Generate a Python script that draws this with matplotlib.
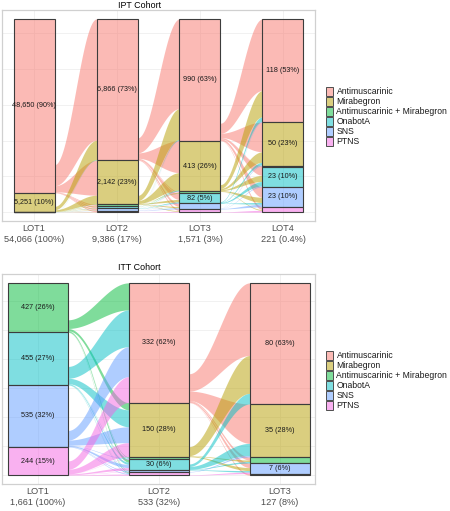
import matplotlib.pyplot as plt
from matplotlib.patches import Rectangle
from matplotlib.colors import to_rgba
import numpy as np

plt.rcParams['font.family'] = ['Liberation Sans', 'DejaVu Sans']

######### Data #########

treatments = ['Antimuscarinic', 'Mirabegron', 'Antimuscarinic + Mirabegron',
              'OnabotA', 'SNS', 'PTNS']
colors = ['#F8766D', '#B79F00', '#00BA38', '#00BFC4', '#619CFF', '#F564E3']

ipt_lots = ['LOT1', 'LOT2', 'LOT3', 'LOT4']
ipt_counts = [
    [48650, 5251, 60, 40, 35, 30],
    [6866, 2142, 90, 110, 100, 78],
    [990, 413, 15, 82, 45, 26],
    [118, 50, 1, 23, 23, 6],
]
# rows = treatment at this LOT, columns = treatment at next LOT
ipt_flow_1_2 = [
    [5900, 1700, 60, 80, 70, 55],
    [940, 430, 25, 20, 20, 15],
    [16, 12, 5, 0, 0, 0],
    [5, 0, 0, 10, 0, 0],
    [5, 0, 0, 0, 10, 0],
    [0, 0, 0, 0, 0, 8],
]
ipt_flow_2_3 = [
    [730, 260, 8, 50, 25, 14],
    [250, 140, 5, 20, 10, 6],
    [4, 5, 2, 0, 0, 0],
    [3, 4, 0, 8, 2, 0],
    [2, 2, 0, 2, 8, 0],
    [1, 2, 0, 2, 0, 6],
]
ipt_flow_3_4 = [
    [82, 34, 1, 10, 12, 3],
    [30, 12, 0, 7, 6, 1],
    [0, 0, 0, 0, 0, 0],
    [5, 3, 0, 5, 2, 0],
    [1, 1, 0, 1, 3, 0],
    [0, 0, 0, 0, 0, 2],
]

itt_lots = ['LOT1', 'LOT2', 'LOT3']
itt_counts = [
    [0, 0, 427, 455, 535, 244],
    [332, 150, 7, 30, 5, 9],
    [80, 35, 4, 0, 7, 1],
]
itt_flow_1_2 = [
    [0, 0, 0, 0, 0, 0],
    [0, 0, 0, 0, 0, 0],
    [75, 20, 2, 8, 1, 2],
    [102, 47, 2, 6, 1, 2],
    [83, 44, 2, 9, 2, 2],
    [72, 39, 1, 7, 1, 3],
]
itt_flow_2_3 = [
    [48, 26, 2, 0, 3, 1],
    [25, 0, 1, 0, 2, 0],
    [0, 0, 0, 0, 0, 0],
    [7, 8, 1, 0, 1, 0],
    [0, 1, 0, 0, 0, 0],
    [0, 0, 0, 0, 1, 0],
]

########################


def lot_label(name, total, first):
    p = total / first * 100
    pct = f"{p:.1f}" if p < 1 else f"{p:.0f}"
    return f"{name}\n{total:,} ({pct}%)"


def draw_alluvial(ax, lots, counts, flows, width, xlim, grid_step):
    counts = np.array(counts, float)
    totals = counts.sum(axis=1)
    n = len(lots)
    xs = np.arange(1, n + 1)
    share = counts / totals[:, None]
    tops = 1 - np.cumsum(share, axis=1) + share
    bots = tops - share

    # background grid (y scale is counts of LOT1)
    for g in np.arange(0, totals[0], grid_step):
        ax.axhline(g / totals[0], color='#EFEFEF', lw=0.6, zorder=0)
    for x in xs:
        ax.axvline(x, color='#EFEFEF', lw=0.6, zorder=0)

    # flows
    for k in range(n - 1):
        f = np.array(flows[k], float)
        x0 = xs[k] + width / 2
        x1 = xs[k + 1] - width / 2
        xx = np.linspace(x0, x1, 80)
        u = (xx - x0) / (x1 - x0)
        ease = 0.5 - 0.5 * np.cos(np.pi * u)
        src_cur = bots[k] + f.sum(axis=1) / totals[k]
        tgt_cur = tops[k + 1].copy()
        for s in range(len(treatments)):
            for t in range(len(treatments)):
                if f[s, t] == 0:
                    continue
                h0 = f[s, t] / totals[k]
                h1 = f[s, t] / totals[k + 1]
                up0, up1 = src_cur[s], tgt_cur[t]
                upper = up0 + (up1 - up0) * ease
                lower = (up0 - h0) + ((up1 - h1) - (up0 - h0)) * ease
                ax.fill_between(xx, lower, upper, color=colors[s], alpha=0.5,
                                lw=0, zorder=1)
                src_cur[s] -= h0
                tgt_cur[t] -= h1

    # strata
    for k in range(n):
        for s in range(len(treatments)):
            if counts[k, s] == 0:
                continue
            ax.add_patch(Rectangle((xs[k] - width / 2, bots[k, s]), width, share[k, s],
                                   facecolor=to_rgba(colors[s], 0.5),
                                   edgecolor='#3C3C3C', lw=0.8, zorder=2))
            if share[k, s] >= 0.05:
                ax.text(xs[k], bots[k, s] + share[k, s] / 2,
                        f"{int(counts[k, s]):,} ({share[k, s] * 100:.0f}%)",
                        ha='center', va='center', fontsize=5.2, color='#1A1A1A', zorder=4)

    ax.set_xlim(*xlim)
    ax.set_ylim(-0.046, 1.046)
    ax.set_xticks(xs)
    ax.set_xticklabels([lot_label(l, int(t), int(totals[0])) for l, t in zip(lots, totals)],
                       fontsize=6.6, color='#4D4D4D', linespacing=1.25)
    ax.tick_params(axis='x', length=0, pad=2.5)
    ax.set_yticks([])
    for sp in ax.spines.values():
        sp.set_color('#D0D0D0')
        sp.set_linewidth(0.9)


fig = plt.figure(figsize=(4.5, 5.11), dpi=100)
W, H = 450, 511

ax1 = fig.add_axes([2 / W, 1 - 221 / H, 313 / W, 211 / H])
draw_alluvial(ax1, ipt_lots, ipt_counts, [ipt_flow_1_2, ipt_flow_2_3, ipt_flow_3_4],
              0.494, (0.614, 4.386), 10000)

ax2 = fig.add_axes([2 / W, 1 - 484 / H, 313 / W, 210 / H])
draw_alluvial(ax2, itt_lots, itt_counts, [itt_flow_1_2, itt_flow_2_3],
              0.496, (0.703, 3.29), 250)

# titles and legends in pixel coordinates
over = fig.add_axes([0, 0, 1, 1])
over.set_xlim(0, W)
over.set_ylim(H, 0)
over.axis('off')
over.text(140, 5, 'IPT Cohort', ha='center', va='center', fontsize=6.4)
over.text(139, 267, 'ITT Cohort', ha='center', va='center', fontsize=6.4)

for y0 in (92, 356):
    for i, name in enumerate(treatments):
        yc = y0 + 10 * i
        over.add_patch(Rectangle((326, yc - 4.5), 7, 9,
                                 facecolor=to_rgba(colors[i], 0.5),
                                 edgecolor='#4D4D4D', lw=0.7))
        over.text(336.5, yc, name, ha='left', va='center', fontsize=6.2, color='#1A1A1A')

fig.savefig('out.png', dpi=100)
